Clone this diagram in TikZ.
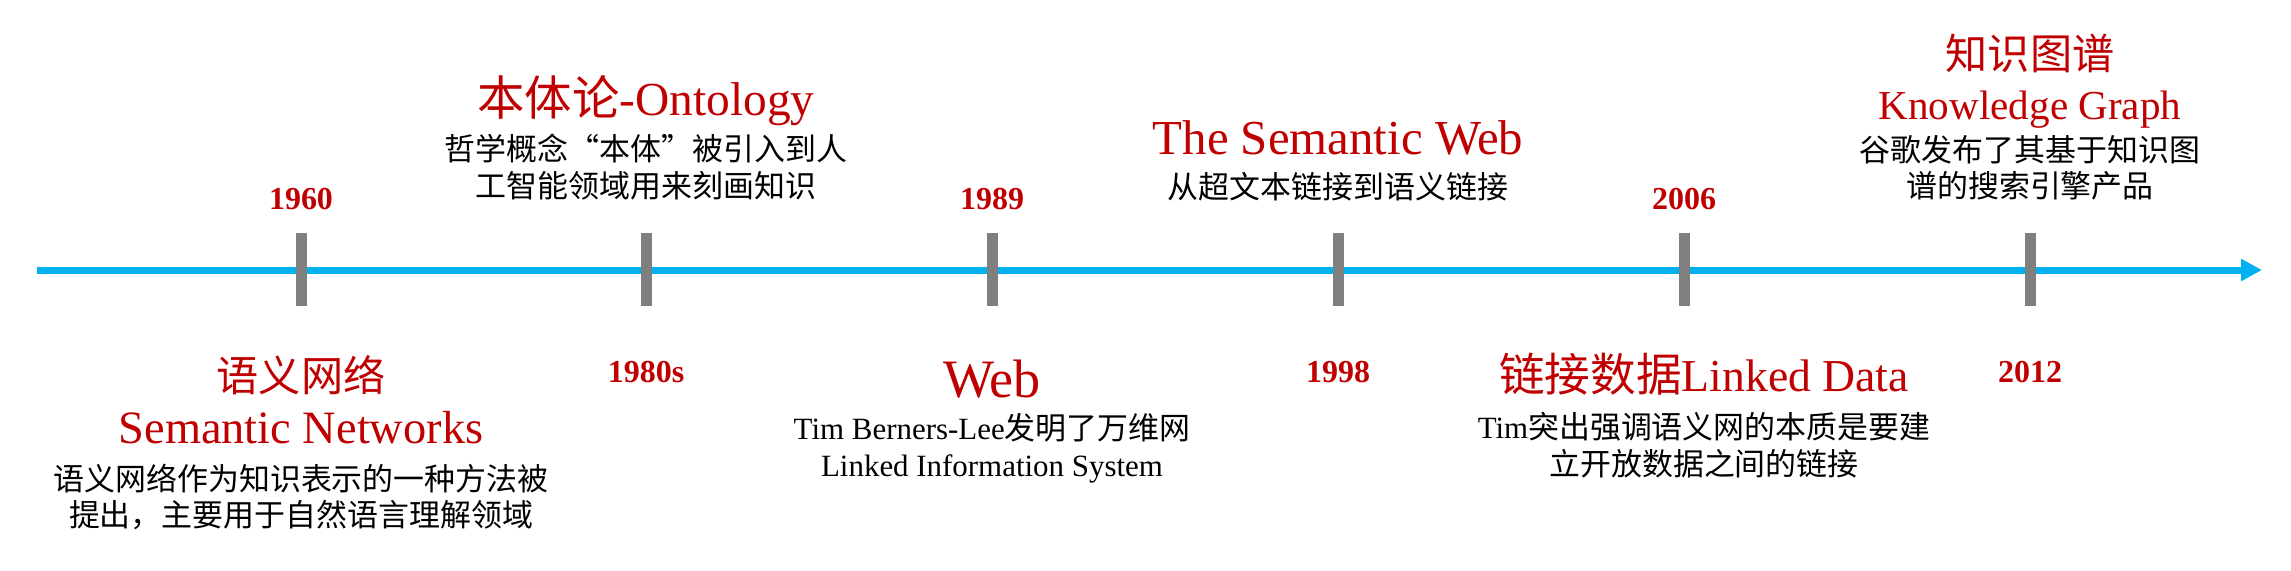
\documentclass[tikz,border=0pt]{standalone}
\usepackage{fontspec}
\setmainfont{Liberation Serif}
\newfontfamily\cjk{Noto Sans CJK SC}
\usetikzlibrary{arrows.meta}
\definecolor{tlred}{HTML}{C00000}
\definecolor{tlblue}{HTML}{00B0F0}
\definecolor{tlgray}{HTML}{7F7F7F}

\begin{document}
\begin{tikzpicture}[
  x=0.1mm, y=-0.1mm,
  axis/.style={tlblue, line width=0.7mm, -{Triangle[length=2.1mm, width=2.1mm]}},
  tickbar/.style={tlgray, line width=1.1mm},
  year/.style={text=tlred, font=\fontsize{9.1}{11}\selectfont\bfseries, anchor=base, inner sep=0pt},
  head/.style={text=tlred, font=\fontsize{#1}{14}\selectfont, anchor=base, inner sep=0pt},
  head/.default=13.2,
  cjkhead/.style={text=tlred, font=\cjk\fontsize{12}{14}\selectfont, inner sep=0pt},
  desc/.style={font=\fontsize{8.8}{10.4}\selectfont, align=center, inner sep=0pt}
]
\useasboundingbox (0,0) rectangle (2291,570);
\coordinate (start) at (37,270);
\coordinate (end) at (2262,270);
\draw[axis] (start) -- (end);
\foreach \x in {301,646,992,1338,1684,2030} {
  \draw[tickbar] (\x,233) -- (\x,306);
}
\foreach \x/\y/\yr in {301/209/1960, 646/382/1980s, 992/209/1989,
                       1338/382/1998, 1684/209/2006, 2030/382/2012} {
  \node[year] (y\yr) at (\x,\y) {\yr};
}

\node[head=13.5] (onto) at (646,115) {{\cjk 本体论}-Ontology};
\node[desc] (ontod) at (646,167) {{\cjk 哲学概念“本体”被引入到人}\\{\cjk 工智能领域用来刻画知识}};
\node[head=13.9] (sw) at (1338,154) {The Semantic Web};
\node[desc] (swd) at (1338,187) {\cjk 从超文本链接到语义链接};
\node[cjkhead] (kg) at (2030,53) {知识图谱};
\node[head=11.7] (kge) at (2030,119) {Knowledge Graph};
\node[desc] (kgd) at (2030,168) {{\cjk 谷歌发布了其基于知识图}\\{\cjk 谱的搜索引擎产品}};

\node[cjkhead] (sn) at (301,375) {语义网络};
\node[head=13.2] (sne) at (301,443) {Semantic Networks};
\node[desc] (snd) at (301,497) {{\cjk 语义网络作为知识表示的一种方法被}\\{\cjk 提出，主要用于自然语言理解领域}};
\node[head=15.4] (web) at (992,397) {Web};
\node[desc] (webd) at (992,448) {Tim Berners-Lee{\cjk 发明了万维网}\\Linked Information System};
\node[head=13] (ld) at (1704,391) {{\cjk 链接数据}Linked Data};
\node[desc] (ldd) at (1704,445) {Tim{\cjk 突出强调语义网的本质是要建}\\{\cjk 立开放数据之间的链接}};
\end{tikzpicture}
\end{document}
